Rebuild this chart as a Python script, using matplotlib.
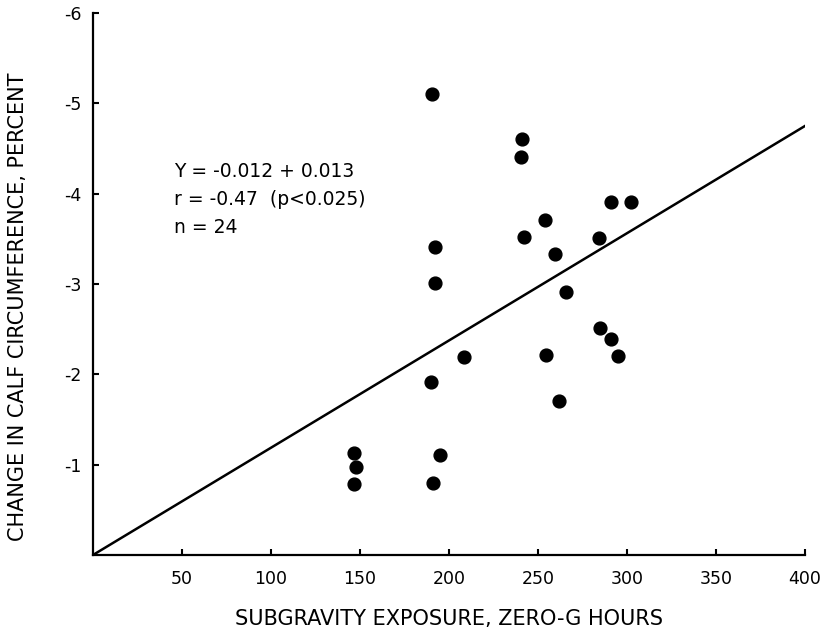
import matplotlib
matplotlib.use("Agg")
import matplotlib.pyplot as plt

plt.rcParams['font.family'] = ['DejaVu Sans']
plt.rcParams['axes.unicode_minus'] = False

# zero-g hours vs change in calf circumference (percent)
hours = [190.6, 241.2, 240.6, 291.0, 302.1, 253.8, 242.0, 284.1,
         192.0, 259.4, 192.3, 265.7, 284.8, 291.2, 208.4, 254.3,
         294.9, 189.7, 261.6, 194.9, 191.0, 146.8, 147.8, 146.8]
change = [-5.10, -4.61, -4.41, -3.91, -3.91, -3.71, -3.52, -3.51,
          -3.41, -3.33, -3.01, -2.91, -2.51, -2.39, -2.19, -2.21,
          -2.20, -1.91, -1.71, -1.11, -0.80, -1.13, -0.97, -0.79]

# regression line end points
fit_x = [0, 400]
fit_y = [0, -4.75]

x_ticks = [50, 100, 150, 200, 250, 300, 350, 400]
y_ticks = [-1, -2, -3, -4, -5, -6]

stats_text = "Y = -0.012 + 0.013\nr = -0.47  (p<0.025)\nn = 24"

fig = plt.figure(figsize=(8.25, 6.35), dpi=100)
ax = fig.add_axes([0.1127, 0.126, 0.8631, 0.8535])

ax.plot(fit_x, fit_y, color="black", linewidth=1.8, zorder=2)
ax.scatter(hours, change, s=85, color="black", zorder=3)

ax.set_xlim(0, 400)
ax.set_ylim(0, -6)

ax.spines['top'].set_visible(False)
ax.spines['right'].set_visible(False)
ax.spines['left'].set_linewidth(1.6)
ax.spines['bottom'].set_linewidth(1.6)

ax.set_xticks(x_ticks)
ax.set_yticks(y_ticks)
ax.set_yticklabels([str(v) for v in y_ticks])
ax.tick_params(axis='x', direction='in', length=4, width=1.5, pad=11, labelsize=12.5)
ax.tick_params(axis='y', direction='in', length=4, width=1.5, pad=8, labelsize=12.5)

ax.text(0.114, 0.725, stats_text, transform=ax.transAxes, fontsize=13.5,
        va="top", ha="left", linespacing=1.6)

fig.text(0.544, 1 - 619 / 635, "SUBGRAVITY EXPOSURE, ZERO-G HOURS",
         ha="center", va="center", fontsize=15)
fig.text(18 / 825, 1 - 307 / 635, "CHANGE IN CALF CIRCUMFERENCE, PERCENT",
         ha="center", va="center", rotation=90, fontsize=15)

fig.savefig("out.png", dpi=100)
